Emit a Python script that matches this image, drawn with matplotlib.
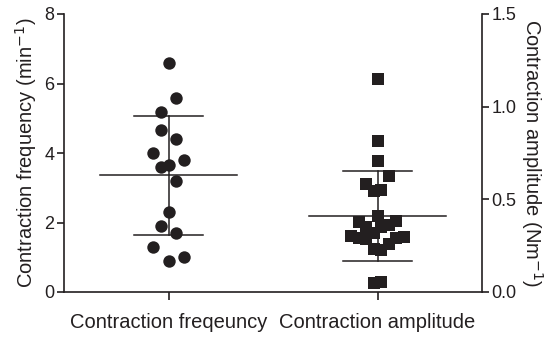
import matplotlib.pyplot as plt
import numpy as np

plt.rcParams['font.family'] = ['Liberation Sans', 'DejaVu Sans']

categories = ['Contraction freqeuncy', 'Contraction amplitude']

# contraction frequency (min^-1)
freq = [6.60, 5.59, 5.19, 4.66, 4.39, 3.99, 3.79, 3.59, 3.65, 3.18,
        2.29, 1.90, 1.69, 1.29, 1.01, 0.88]
# horizontal scatter slot of each dot (in marker half-steps)
freq_slot = [0, 1, -1, -1, 1, -2, 2, -1, 0, 1, 0, -1, 1, -2, 2, 0]

# contraction amplitude (Nm^-1)
amp = [1.148, 0.815, 0.707, 0.626, 0.583, 0.545, 0.549, 0.410, 0.379, 0.383,
       0.351, 0.351, 0.360, 0.320, 0.300, 0.291, 0.288, 0.291, 0.295, 0.259,
       0.232, 0.227, 0.047, 0.052]
amp_slot = [0, 0, 0, 3, -3, -1, 1, 0, -5, 5, -3, 1, 3, -1, -7, -5, -3, 5, 7, 3,
            -1, 1, -1, 1]

ink = '#231f20'
step = 0.036

fig = plt.figure(figsize=(5.5, 3.39), dpi=100)
ax = fig.add_axes([64 / 550, 47 / 339, 418 / 550, 278 / 339])
ax2 = ax.twinx()

# left group: frequency
x1 = 0 + step * np.array(freq_slot)
ax.scatter(x1, freq, s=80, marker='o', color=ink, linewidths=0, zorder=3)
m1, s1 = np.mean(freq), np.std(freq, ddof=1)
ax.plot([-0.33, 0.33], [m1, m1], color=ink, lw=1.1)
ax.plot([-0.167, 0.167], [m1 + s1, m1 + s1], color=ink, lw=1.1)
ax.plot([-0.167, 0.167], [m1 - s1, m1 - s1], color=ink, lw=1.1)
ax.plot([0, 0], [m1 - s1, m1 + s1], color=ink, lw=1.1)

# right group: amplitude
x2 = 1 + step / 2 * np.array(amp_slot)
ax2.scatter(x2, amp, s=85, marker='s', color=ink, linewidths=0, zorder=3)
m2, s2 = np.mean(amp), np.std(amp, ddof=1)
ax2.plot([1 - 0.33, 1 + 0.33], [m2, m2], color=ink, lw=1.1)
ax2.plot([1 - 0.167, 1 + 0.167], [m2 + s2, m2 + s2], color=ink, lw=1.1)
ax2.plot([1 - 0.167, 1 + 0.167], [m2 - s2, m2 - s2], color=ink, lw=1.1)
ax2.plot([1, 1], [m2 - s2, m2 + s2], color=ink, lw=1.1)

ax.set_xlim(-0.5, 1.5)
ax.set_ylim(0, 8)
ax2.set_ylim(0, 1.5)
ax.set_yticks([0, 2, 4, 6, 8])
ax2.set_yticks([0, 0.5, 1.0, 1.5])
ax2.set_yticklabels(['0.0', '0.5', '1.0', '1.5'])
ax.set_xticks([0, 1])
ax.set_xticklabels(categories)

for a in (ax, ax2):
    a.spines['top'].set_visible(False)
    for sp in a.spines.values():
        sp.set_linewidth(1.2)
        sp.set_color(ink)
ax.spines['right'].set_visible(False)
ax2.spines['left'].set_visible(False)
ax2.spines['bottom'].set_visible(False)

ax.tick_params(axis='y', direction='out', length=5, width=1.2, pad=2,
               labelsize=13, colors=ink)
ax.tick_params(axis='x', direction='out', length=6, width=1.2, pad=9,
               labelsize=14.5, colors=ink)
ax2.tick_params(axis='y', direction='out', length=5, width=1.2, pad=2,
                labelsize=13, colors=ink)

ax.set_ylabel('Contraction frequency (min$^{-1}$)', fontsize=14.5, color=ink,
              labelpad=4)
ax2.set_ylabel('Contraction amplitude (Nm$^{-1}$)', fontsize=14.5, color=ink,
               rotation=270, labelpad=20)

fig.savefig('out.png', dpi=100)
